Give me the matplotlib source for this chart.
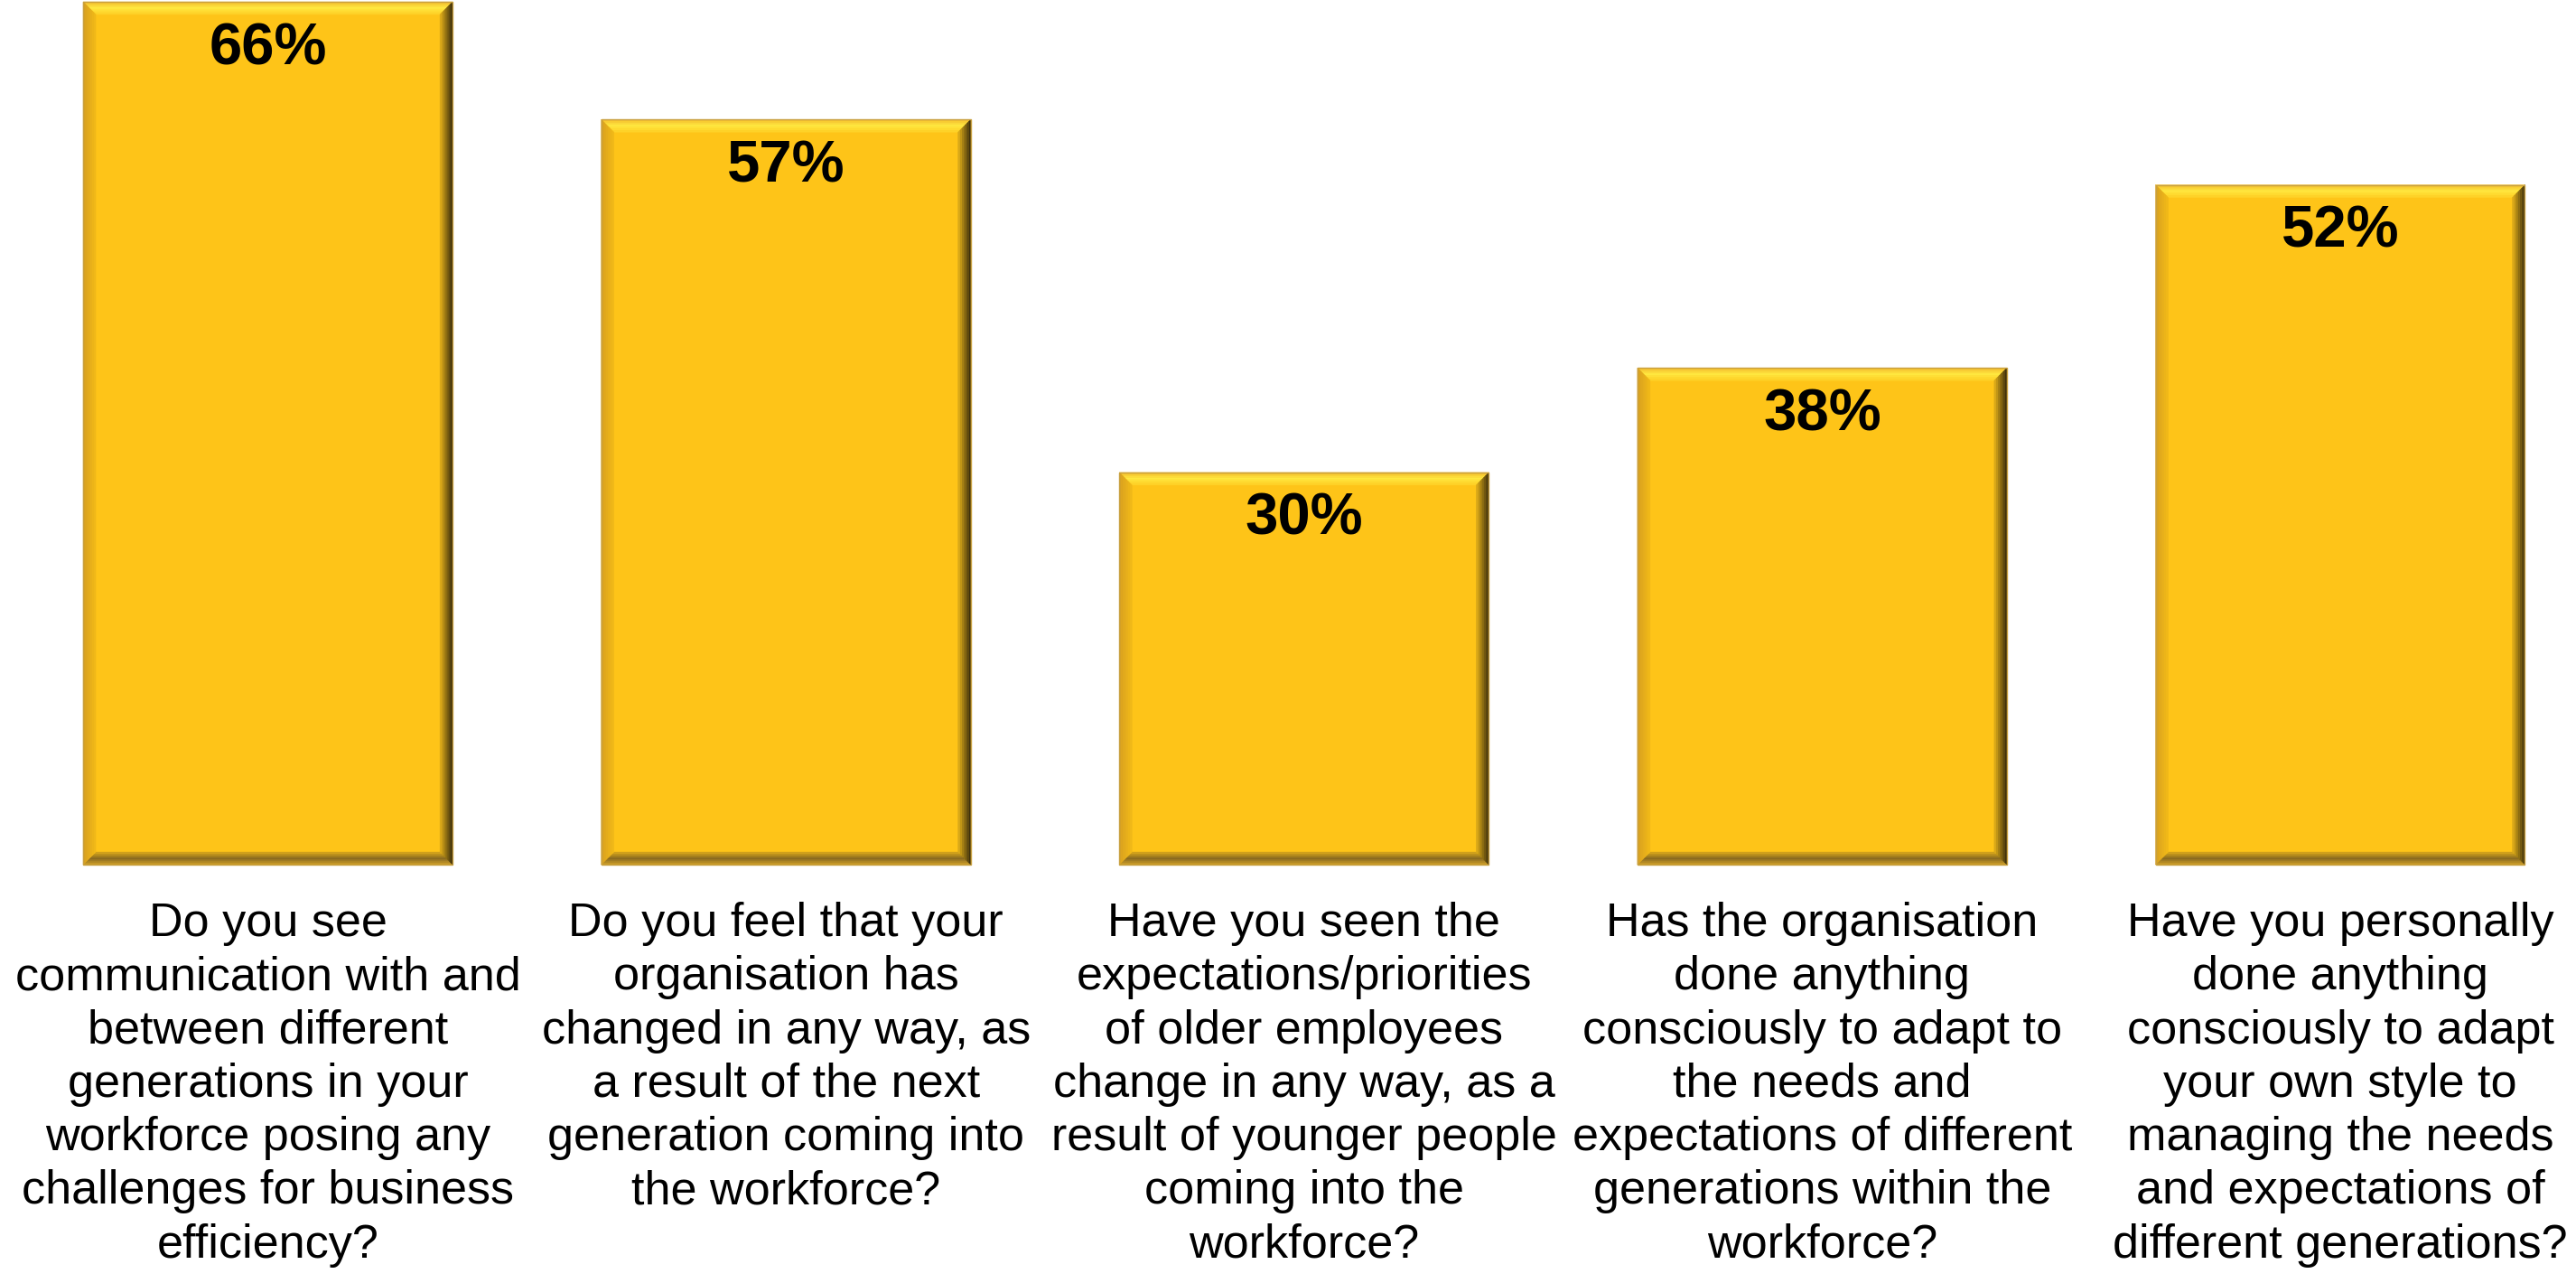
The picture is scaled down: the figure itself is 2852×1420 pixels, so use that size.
import matplotlib.pyplot as plt
import matplotlib.transforms as mtransforms
from matplotlib.patches import Polygon
import numpy as np

plt.rcParams['font.family'] = ['Liberation Sans', 'DejaVu Sans']

# -------- data
questions = [
    "Do you see\ncommunication with and\nbetween different\ngenerations in your\nworkforce posing any\nchallenges for business\nefficiency?",
    "Do you feel that your\norganisation has\nchanged in any way, as\na result of the next\ngeneration coming into\nthe workforce?",
    "Have you seen the\nexpectations/priorities\nof older employees\nchange in any way, as a\nresult of younger people\ncoming into the\nworkforce?",
    "Has the organisation\ndone anything\nconsciously to adapt to\nthe needs and\nexpectations of different\ngenerations within the\nworkforce?",
    "Have you personally\ndone anything\nconsciously to adapt\nyour own style to\nmanaging the needs\nand expectations of\ndifferent generations?",
]
yes_pct = [66, 57, 30, 38, 52]

# -------- figure
W, H = 2852, 1420
fig = plt.figure(figsize=(W / 100, H / 100), dpi=100)
ax = fig.add_axes([0, 1 - 957 / H, 1, (957 - 2) / H])
ax.set_xlim(-0.517, 4.455)
ax.set_ylim(0, 66)
ax.axis('off')

fill = '#FEC418'
x = np.arange(len(yes_pct))
bars = ax.bar(x, yes_pct, width=0.713, color=fill, edgecolor='none', zorder=2)


# -------- bevel edges
def mix(c1, c2, t):
    c1 = np.array(plt.matplotlib.colors.to_rgb(c1))
    c2 = np.array(plt.matplotlib.colors.to_rgb(c2))
    return tuple(c1 + (c2 - c1) * t)


def strip(side, x0, y0, x1, y1, d0, d1):
    if side == 'top':
        return [(x0 + d0, y1 - d0), (x1 - d0, y1 - d0), (x1 - d1, y1 - d1), (x0 + d1, y1 - d1)]
    if side == 'bottom':
        return [(x0 + d0, y0 + d0), (x1 - d0, y0 + d0), (x1 - d1, y0 + d1), (x0 + d1, y0 + d1)]
    if side == 'left':
        return [(x0 + d0, y0 + d0), (x0 + d0, y1 - d0), (x0 + d1, y1 - d1), (x0 + d1, y0 + d1)]
    return [(x1 - d0, y0 + d0), (x1 - d0, y1 - d0), (x1 - d1, y1 - d1), (x1 - d1, y0 + d1)]


bevel = 14
nstep = 7
edge_cols = {
    'top': ('#F5C030', '#FFE840'),
    'bottom': ('#C89A28', '#8A6A20'),
    'left': ('#D8A020', '#F0B818'),
    'right': ('#3E300C', '#D9A818'),
}
ident = mtransforms.IdentityTransform()
for b in bars:
    (x0, y0), (x1, y1) = ax.transData.transform([(b.get_x(), 0), (b.get_x() + b.get_width(), b.get_height())])
    for side in ['top', 'bottom', 'left', 'right']:
        c_out, c_in = edge_cols[side]
        for i in range(nstep):
            d0 = bevel * i / nstep
            d1 = bevel * (i + 1) / nstep
            t = i / (nstep - 1)
            if side in ('top', 'bottom'):
                col = mix(c_out, c_in, min(1, 2 * t)) if t < 0.5 else mix(c_in, fill, (t - 0.5) * 2 * 0.6)
            else:
                col = mix(c_out, c_in, t)
            fig.add_artist(Polygon(strip(side, x0, y0, x1, y1, d0, d1), closed=True,
                                   facecolor=col, edgecolor=col, lw=0.3, transform=ident, zorder=3))
    fig.add_artist(Polygon([(x0, y0), (x1, y0), (x1, y1), (x0, y1)], closed=True, fill=False,
                           edgecolor='#C8A040', lw=1, transform=ident, zorder=4))

# -------- value labels
for xi, v in zip(x, yes_pct):
    ax.annotate(f"{v}%", (xi, v), xytext=(0, -52), textcoords='offset pixels',
                ha='center', va='center', fontsize=47, fontweight='bold', color='black', zorder=5)

# -------- category labels
trans = mtransforms.blended_transform_factory(ax.transData, fig.transFigure)
for xi, q in zip(x, questions):
    ax.text(xi, 1 - 998 / H, q, transform=trans, ha='center', va='top',
            fontsize=37.5, linespacing=1.27, color='black', clip_on=False)

fig.savefig('out.png', dpi=100)
